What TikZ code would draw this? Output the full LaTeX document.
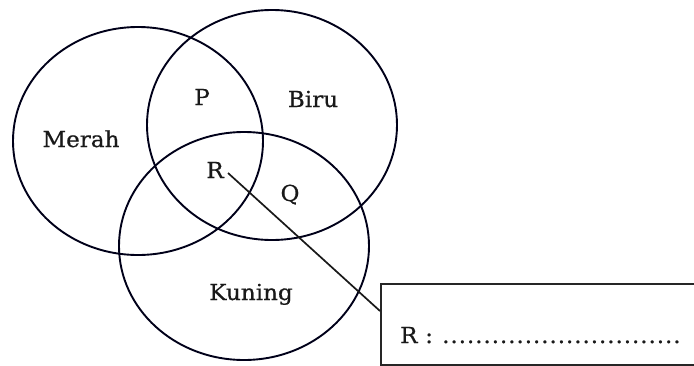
\documentclass[tikz,border=0pt]{standalone}
\usepackage{fontspec}
\newfontfamily\lblfont[FakeStretch=1.05,FakeBold=0.6]{DejaVu Serif}
\begin{document}
\begin{tikzpicture}[x=1pt,y=-1pt,
  ring/.style={draw=black!90!blue, line width=1.9pt},
  lbl/.style={font=\lblfont\fontsize{22}{26}\selectfont, inner sep=0pt, anchor=base, text=black!90},
  answerbox/.style={draw=black!85, line width=1.6pt, minimum width=330pt, minimum height=81pt, anchor=north west, inner sep=0pt},
  leader/.style={draw=black!90, line width=1.7pt}]
\useasboundingbox (0,0) rectangle (694,365);
\clip (0,0) rectangle (694,365);
% circles
\draw[ring] (138,141) ellipse [x radius=125, y radius=114];
\draw[ring] (272,125) ellipse [x radius=125, y radius=115];
\draw[ring] (244,246) ellipse [x radius=125, y radius=114];
% labels
\node[lbl] (merah) at (81,147) {Merah};
\node[lbl] (biru) at (313,107) {Biru};
\node[lbl] (p) at (202,105) {P};
\node[lbl] (r) at (215,178) {R};
\node[lbl] (q) at (290,201) {Q};
\node[lbl] (kuning) at (251,300) {Kuning};
% answer box
\node[answerbox] (box) at (380,283) {};
\node[lbl, anchor=base west] (ans) at (400,343) {\makebox[25pt][l]{R}\makebox[17pt][l]{:}\foreach \i in {1,...,29}{\makebox[8.25pt][l]{.}}};
% leader line
\coordinate (rtip) at (228,173);
\coordinate (boxhit) at (380,311);
\draw[leader] (rtip) -- (boxhit);
\end{tikzpicture}
\end{document}
